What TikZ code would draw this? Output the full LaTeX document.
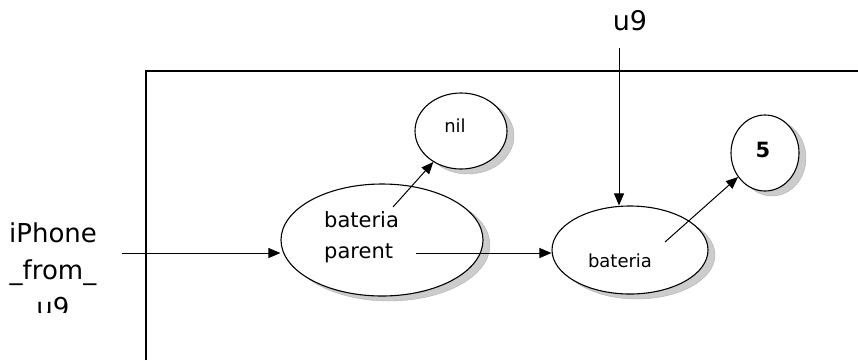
\documentclass[tikz,border=0pt]{standalone}
\usepackage{fontspec}
\setmainfont{DejaVu Sans}
\usetikzlibrary{arrows.meta,shapes.geometric}
\begin{document}
\begin{tikzpicture}[x=1pt,y=-1pt,
  state/.style={ellipse, draw=black, line width=1.1pt, fill=white, inner sep=0pt},
  shade/.style={fill=gray!40, draw=gray!60, line width=0.4pt},
  link/.style={-{Triangle[length=12pt,width=10pt]}, line width=1pt},
  lbl/.style={inner sep=0pt, align=center}]
\useasboundingbox (0,0) rectangle (858,360);
% frame
\draw[line width=1.3pt] (146,360) -- (146,71) -- (858,71);
% shadows
\fill[shade] (389,245) ellipse [x radius=101, y radius=56];
\fill[shade] (468,136) ellipse [x radius=46, y radius=38];
\fill[shade] (637,255) ellipse [x radius=78, y radius=44];
\fill[shade] (772,158) ellipse [x radius=34, y radius=38];
% states
\node[state, minimum width=202, minimum height=112] (par) at (382,240) {};
\node[state, minimum width=92, minimum height=76] (nil) at (461,131) {};
\node[state, minimum width=156, minimum height=88] (bat) at (630,250) {};
\node[state, minimum width=68, minimum height=76] (five) at (765,153) {};
% labels (the input label sits in a text box that cuts off its last line)
\begin{scope}
  \clip (0,0) rectangle (140,312);
  \node[lbl, font=\fontsize{26}{37}\selectfont] (ip) at (53,270) {iPhone\\\_from\_\\u9};
\end{scope}
\node[lbl, font=\fontsize{27}{30}\selectfont] (u9) at (630,21) {u9};
\node[lbl, font=\fontsize{21}{31}\selectfont, align=left, anchor=west] (pt) at (324,237) {bateria\\parent};
\node[lbl, font=\fontsize{18}{20}\selectfont] (nt) at (455,126) {nil};
\node[lbl, font=\fontsize{18}{20}\selectfont] (bt) at (620,261) {bateria};
\node[lbl, font=\fontsize{21}{22}\selectfont\bfseries] (ft) at (763,150) {5};
% connectors
\coordinate (inA) at (122,253);
\coordinate (u9A) at (619,48);
\coordinate (pA) at (393,207);
\coordinate (pB) at (416,253);
\coordinate (bA) at (665,242);
\draw[link] (inA) -- (par.west |- inA);
\draw[link] (u9A) -- (bat.north -| u9A);
\draw[link] (pA) -- (nil);
\draw[link] (pB) -- (bat.west |- pB);
\draw[link] (bA) -- (five);
\end{tikzpicture}
\end{document}
